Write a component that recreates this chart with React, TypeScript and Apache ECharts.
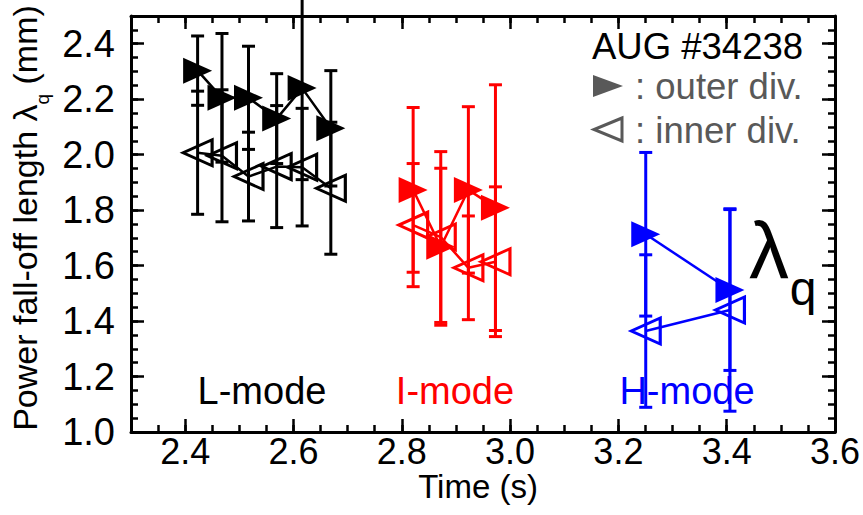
import React, { useEffect, useRef } from 'react';
import * as echarts from 'echarts';

// ---- axis ticks ----
const xTickValues = [2.4, 2.6, 2.8, 3.0, 3.2, 3.4, 3.6];
const yTickValues = [1.0, 1.2, 1.4, 1.6, 1.8, 2.0, 2.2, 2.4];

// ---- L-mode (black) ----
const lTime = [2.423, 2.468, 2.517, 2.569, 2.616, 2.669];
const lOuter = [2.303, 2.205, 2.205, 2.13, 2.24, 2.095];
const lOuterErr = [0.125, 0.232, 0.186, 0.162, 0.33, 0.208];
const lInner = [2.007, 1.996, 1.921, 1.957, 1.955, 1.879];
const lInnerErr = [0.222, 0.238, 0.16, 0.22, 0.212, 0.238];

// ---- I-mode (red) ----
const iTime = [2.821, 2.872, 2.923, 2.973];
const iOuter = [1.873, 1.668, 1.873, 1.809];
const iOuterErr = [0.297, 0.283, 0.3, 0.443];
const iInner = [1.746, 1.703, 1.592, 1.614];
const iInnerErr = [0.222, 0.308, 0.187, 0.27];

// ---- H-mode (blue) ----
const hTime = [3.2505, 3.406];
const hOuter = [1.713, 1.512];
const hOuterErr = [0.295, 0.29];
const hInner = [1.364, 1.44];
const hInnerErr = [0.275, 0.365];

const FONT = '"Liberation Sans", Arial, Helvetica, sans-serif';
const RIGHT_TRI = 'path://M0 0L10 5L0 10Z';
const LEFT_TRI = 'path://M10 0L0 5L10 10Z';
const LEGEND_GRAY = '#595959';

function errSeries(time: number[], val: number[], err: number[], color: string) {
  return {
    type: 'custom',
    clip: false,
    z: 2,
    silent: true,
    data: time.map((t, i) => [t, val[i] - err[i], val[i] + err[i]]),
    encode: { x: 0, y: [1, 2] },
    renderItem: (params: any, api: any) => {
      const x = api.value(0);
      const lo = api.value(1);
      const hi = api.value(2);
      const a = api.coord([x, hi]);
      const b = api.coord([x, lo]);
      const hw = 6.5;
      const st = { stroke: color, lineWidth: 3 };
      return {
        type: 'group',
        children: [
          { type: 'line', shape: { x1: a[0], y1: a[1], x2: b[0], y2: b[1] }, style: st },
          { type: 'line', shape: { x1: a[0] - hw, y1: a[1], x2: a[0] + hw, y2: a[1] }, style: st },
          { type: 'line', shape: { x1: b[0] - hw, y1: b[1], x2: b[0] + hw, y2: b[1] }, style: st },
        ],
      };
    },
  };
}

function lineSeries(time: number[], val: number[], color: string, filled: boolean) {
  return {
    type: 'line',
    z: 3,
    silent: true,
    data: time.map((t, i) => [t, val[i]]),
    symbol: filled ? RIGHT_TRI : LEFT_TRI,
    symbolSize: [29, 26],
    lineStyle: { color, width: 2.5 },
    itemStyle: filled
      ? { color, borderWidth: 0 }
      : { color: 'rgba(0,0,0,0)', borderColor: color, borderWidth: 3 },
    emphasis: { disabled: true },
  };
}

function measure(text: string, size: number) {
  const ctx = document.createElement('canvas').getContext('2d');
  if (!ctx) return text.length * size * 0.5;
  ctx.font = `${size}px ${FONT}`;
  return ctx.measureText(text).width;
}

const X_MIN = 2.3, X_MAX = 3.6, Y_MIN = 1.0, Y_MAX = 2.5;
const MAJOR = 13, MINOR = 7;

function xAxis(pos: 'bottom' | 'top', major: boolean, labels: boolean) {
  return {
    type: 'value',
    position: pos,
    offset: 0,
    min: X_MIN,
    max: X_MAX,
    ...(major ? {} : { interval: 0.05 }),
    splitLine: { show: false },
    axisLine: { show: major, onZero: false, lineStyle: { color: '#000', width: 3 } },
    axisTick: {
      show: true,
      inside: true,
      length: major ? MAJOR : MINOR,
      lineStyle: { color: '#000', width: 2.5 },
      ...(major ? { customValues: xTickValues } : {}),
    },
    axisLabel: labels
      ? {
          show: true,
          customValues: xTickValues,
          formatter: (v: number) => v.toFixed(1),
          fontSize: 36,
          lineHeight: 36,
          fontFamily: FONT,
          color: '#000',
          margin: 1,
          hideOverlap: false,
        }
      : { show: false },
  };
}

function yAxis(pos: 'left' | 'right', major: boolean, labels: boolean) {
  return {
    type: 'value',
    position: pos,
    offset: 0,
    min: Y_MIN,
    max: Y_MAX,
    ...(major ? {} : { interval: 0.05 }),
    splitLine: { show: false },
    axisLine: { show: major, onZero: false, lineStyle: { color: '#000', width: 3 } },
    axisTick: {
      show: true,
      inside: true,
      length: major ? MAJOR : MINOR,
      lineStyle: { color: '#000', width: 2.5 },
      ...(major ? { customValues: yTickValues } : {}),
    },
    axisLabel: labels
      ? {
          show: true,
          customValues: yTickValues,
          formatter: (v: number) => v.toFixed(1),
          fontSize: 38,
          lineHeight: 38,
          padding: [5, 0, 0, 0],
          fontFamily: FONT,
          color: '#000',
          margin: 16,
          hideOverlap: false,
        }
      : { show: false },
  };
}

export default function App() {
  const ref = useRef<HTMLDivElement>(null);

  useEffect(() => {
    if (!ref.current) return;
    const chart = echarts.init(ref.current, undefined, { renderer: 'svg' });

    // y-axis title with subscript
    const tSize = 34, subSize = 19;
    const t1 = 'Power fall-off length \u03bb';
    const t2 = 'q';
    const t3 = ' (mm)';
    const w1 = measure(t1, tSize);
    const w2 = measure(t2, subSize);
    const w3 = measure(t3, tSize);
    const W = w1 + w2 + w3;
    const x0 = -W / 2;

    const textStyle = (extra: any) => ({
      fontFamily: FONT,
      ...extra,
    });

    const option: any = {
      animation: false,
      backgroundColor: '#fff',
      grid: { left: 131, right: 28, top: 16, bottom: 83, containLabel: false, outerBoundsMode: 'none' },
      xAxis: [
        xAxis('bottom', true, true),
        xAxis('bottom', false, false),
        xAxis('top', true, false),
        xAxis('top', false, false),
      ],
      yAxis: [
        yAxis('left', true, true),
        yAxis('left', false, false),
        yAxis('right', true, false),
        yAxis('right', false, false),
      ],
      series: [
        errSeries(lTime, lOuter, lOuterErr, '#000'),
        errSeries(lTime, lInner, lInnerErr, '#000'),
        errSeries(iTime, iOuter, iOuterErr, '#ff0000'),
        errSeries(iTime, iInner, iInnerErr, '#ff0000'),
        errSeries(hTime, hOuter, hOuterErr, '#0000ff'),
        errSeries(hTime, hInner, hInnerErr, '#0000ff'),
        lineSeries(lTime, lOuter, '#000', true),
        lineSeries(lTime, lInner, '#000', false),
        lineSeries(iTime, iOuter, '#ff0000', true),
        lineSeries(iTime, iInner, '#ff0000', false),
        lineSeries(hTime, hOuter, '#0000ff', true),
        lineSeries(hTime, hInner, '#0000ff', false),
      ],
      graphic: [
        // y-axis title
        {
          type: 'group',
          x: 25,
          y: 218,
          rotation: Math.PI / 2,
          silent: true,
          children: [
            {
              type: 'text',
              x: x0,
              y: 0,
              style: textStyle({ text: t1, fontSize: tSize, fill: '#000', align: 'left', verticalAlign: 'middle' }),
            },
            {
              type: 'text',
              x: x0 + w1,
              y: 17,
              style: textStyle({ text: t2, fontSize: subSize, fill: '#000', align: 'left', verticalAlign: 'middle' }),
            },
            {
              type: 'text',
              x: x0 + w1 + w2,
              y: 0,
              style: textStyle({ text: t3, fontSize: tSize, fill: '#000', align: 'left', verticalAlign: 'middle' }),
            },
          ],
        },
        // x-axis title
        {
          type: 'text',
          x: 478,
          y: 486,
          silent: true,
          style: textStyle({ text: 'Time (s)', fontSize: 33, lineHeight: 30, fill: '#000', align: 'center', verticalAlign: 'middle' }),
        },
        // mode labels
        {
          type: 'text', x: 262, y: 391, silent: true,
          style: textStyle({ text: 'L-mode', fontSize: 38, fill: '#000', align: 'center', verticalAlign: 'middle' }),
        },
        {
          type: 'text', x: 455, y: 391, silent: true,
          style: textStyle({ text: 'I-mode', fontSize: 38, fill: '#ff0000', align: 'center', verticalAlign: 'middle' }),
        },
        {
          type: 'text', x: 687, y: 391, silent: true,
          style: textStyle({ text: 'H-mode', fontSize: 38, fill: '#0000ff', align: 'center', verticalAlign: 'middle' }),
        },
        // legend block
        {
          type: 'text', x: 592, y: 46, silent: true,
          style: textStyle({ text: 'AUG #34238', fontSize: 36.5, fill: '#000', align: 'left', verticalAlign: 'middle' }),
        },
        {
          type: 'polygon', silent: true,
          shape: { points: [[593, 75], [623, 86], [593, 97]] },
          style: { fill: LEGEND_GRAY },
        },
        {
          type: 'text', x: 635, y: 86, silent: true,
          style: textStyle({ text: ': outer div.', fontSize: 36.5, fill: LEGEND_GRAY, align: 'left', verticalAlign: 'middle' }),
        },
        {
          type: 'polygon', silent: true,
          shape: { points: [[622, 118], [594, 129.5], [622, 141]] },
          style: { fill: 'none', stroke: LEGEND_GRAY, lineWidth: 3 },
        },
        {
          type: 'text', x: 635, y: 130, silent: true,
          style: textStyle({ text: ': inner div.', fontSize: 36.5, fill: LEGEND_GRAY, align: 'left', verticalAlign: 'middle' }),
        },
        // big lambda_q label
        {
          type: 'text', x: 769, y: 250, silent: true,
          style: textStyle({ text: '\u03bb', fontSize: 80, fill: '#000', align: 'center', verticalAlign: 'middle' }),
        },
        {
          type: 'text', x: 803, y: 288, silent: true,
          style: textStyle({ text: 'q', fontSize: 48, fill: '#000', align: 'center', verticalAlign: 'middle' }),
        },
      ],
    };

    chart.setOption(option);
    return () => chart.dispose();
  }, []);

  return (
    <div
      ref={ref}
      style={{ position: 'absolute', left: 0, top: 0, width: 863, height: 515, background: '#fff' }}
    />
  );
}
